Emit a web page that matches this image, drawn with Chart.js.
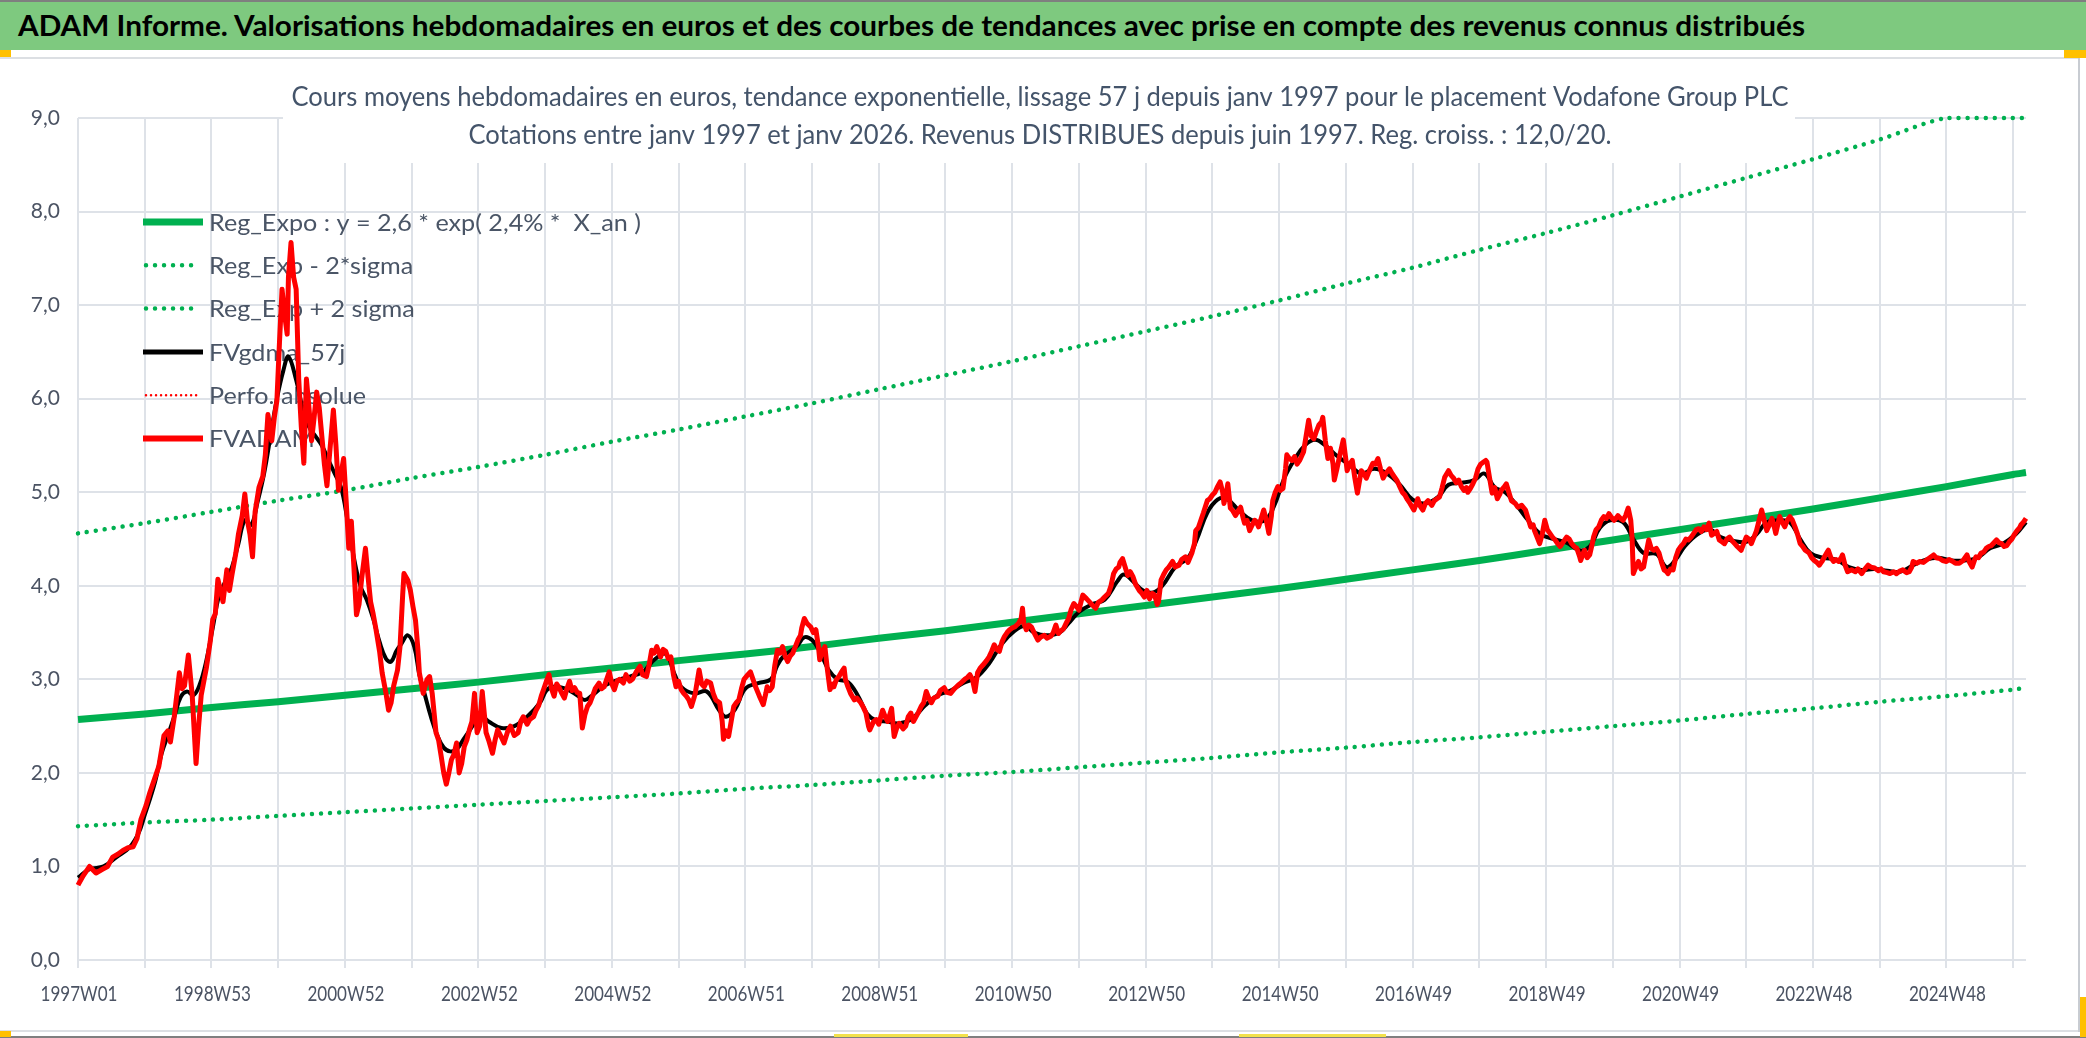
<!DOCTYPE html>
<html>
<head>
<meta charset="utf-8">
<script src="https://cdn.jsdelivr.net/npm/chart.js@4.4.1/dist/chart.umd.min.js"></script>
<style>
html,body{margin:0;padding:0;background:#fff;width:2086px;height:1038px;overflow:hidden;position:relative;}
.abs{position:absolute;}
#topline{left:0;top:0;width:2086px;height:2px;background:#7f7f7f;}
#bar{left:0;top:2px;width:2086px;height:48px;background:#7EC97F;}
#bartitle{left:18px;top:6px;line-height:38px;font-weight:bold;font-size:29px;color:#000;white-space:nowrap;transform-origin:0 50%;font-family:Lato,'Open Sans',sans-serif;}
#sep{left:0;top:57px;width:2078px;height:2px;background:#DCDFE3;}
#chartbox{left:0;top:58px;width:2080px;height:972px;}
#bottom1{left:0;top:1030px;width:2078px;height:2px;background:#DCDFE3;}
#bottom2{left:0;top:1036px;width:2086px;height:2px;background:#7f7f7f;}
#rightline{left:2078px;top:58px;width:2px;height:974px;background:#C8CCD2;}
.orange{background:#FFC000;}
.yellow{background:#F2E14C;}
</style>
</head>
<body>
<div id="topline" class="abs"></div>
<div id="bar" class="abs"></div>
<div id="bartitle" class="abs">ADAM Informe. Valorisations hebdomadaires en euros et des courbes de tendances avec prise en compte des revenus connus distribués</div>
<div id="sep" class="abs"></div>
<div class="abs orange" style="left:0;top:50px;width:11px;height:7px;"></div>
<div class="abs orange" style="left:2064px;top:50px;width:22px;height:8px;"></div>
<div id="chartbox" class="abs"><canvas id="c"></canvas></div>
<div id="rightline" class="abs"></div>
<div id="bottom1" class="abs"></div>
<div id="bottom2" class="abs"></div>
<div class="abs orange" style="left:0;top:1031px;width:11px;height:6px;"></div>
<div class="abs orange" style="left:2080px;top:997px;width:6px;height:40px;"></div>
<div class="abs yellow" style="left:834px;top:1034px;width:134px;height:3px;"></div>
<div class="abs yellow" style="left:1239px;top:1034px;width:147px;height:3px;"></div>
<script>
// ---------------- DATA ----------------
const xTickLabels = ['1997W01','1998W53','2000W52','2002W52','2004W52','2006W51','2008W51','2010W50',
  '2012W50','2014W50','2016W49','2018W49','2020W49','2022W48','2024W48'];
const labelEveryWeeks = 104;
const gridEveryWeeks = 52;
const lastWeek = 1518;

const legendLabels = ['Reg_Expo : y = 2,6 * exp( 2,4% *  X_an )','Reg_Exp - 2*sigma','Reg_Exp + 2 sigma',
  'FVgdma_57j','Perfo. absolue','FVADAM'];

const chartTitleLines = [
  'Cours moyens hebdomadaires en euros, tendance exponentielle, lissage 57 j depuis janv 1997 pour le placement Vodafone Group PLC',
  'Cotations entre janv 1997 et janv 2026. Revenus DISTRIBUES depuis juin 1997. Reg. croiss. : 12,0/20.'
];

// trend curves (week index -> value)
const trendWeeks = [0,52,104,156,208,260,312,364,416,468,520,572,624,676,728,780,832,884,936,988,1040,1092,1144,1196,1248,1300,1352,1404,1456,1508,1518];
const regExpo = [2.57,2.63,2.70,2.76,2.83,2.90,2.97,3.05,3.12,3.20,3.27,3.35,3.44,3.52,3.61,3.70,3.79,3.88,3.97,4.07,4.17,4.27,4.38,4.49,4.60,4.71,4.82,4.94,5.06,5.19,5.21];
const regLow = [1.43,1.47,1.50,1.54,1.58,1.62,1.66,1.70,1.74,1.78,1.83,1.87,1.92,1.97,2.01,2.06,2.11,2.16,2.22,2.27,2.33,2.38,2.44,2.50,2.56,2.63,2.69,2.76,2.82,2.89,2.91];
const regHigh = [4.56,4.67,4.79,4.91,5.02,5.15,5.27,5.40,5.54,5.67,5.81,5.95,6.10,6.25,6.40,6.56,6.72,6.88,7.05,7.23,7.40,7.59,7.77,7.96,8.16,8.36,8.56,8.77,9.0,9.0,9.0];

// FVgdma_57j : [week, value]
const fvgdma = [
[0,0.88],[9,0.97],[20,1.0],[30,1.1],[40,1.2],[47,1.35],[52,1.55],[60,1.9],[65,2.2],[70,2.4],
[75,2.6],[80,2.81],[85,2.87],[90,2.83],[95,2.95],[100,3.2],[105,3.55],[110,3.9],[115,4.05],[120,4.2],
[125,4.45],[130,4.7],[135,4.65],[140,4.9],[145,5.2],[150,5.6],[155,6.0],[160,6.3],[164,6.45],[170,6.2],
[175,5.9],[180,5.7],[185,5.6],[190,5.5],[195,5.35],[200,5.2],[205,5.05],[210,4.7],[215,4.3],[220,4.0],
[225,3.85],[230,3.65],[235,3.4],[240,3.22],[244,3.19],[248,3.3],[252,3.38],[257,3.47],[262,3.35],[266,3.05],
[270,2.85],[275,2.6],[280,2.4],[285,2.27],[290,2.23],[295,2.25],[300,2.35],[305,2.45],[310,2.55],[315,2.6],
[320,2.55],[330,2.48],[340,2.5],[350,2.6],[360,2.75],[365,2.88],[370,2.92],[380,2.9],[390,2.82],[395,2.78],
[400,2.82],[410,2.93],[420,2.99],[430,3.03],[440,3.08],[450,3.22],[458,3.27],[465,3.05],[470,2.92],[480,2.85],
[490,2.87],[500,2.66],[505,2.6],[512,2.68],[520,2.9],[530,2.96],[540,3.0],[545,3.15],[550,3.25],[560,3.35],
[566,3.45],[572,3.42],[578,3.3],[585,3.1],[592,3.0],[600,2.97],[608,2.82],[615,2.63],[622,2.56],[630,2.55],
[640,2.53],[650,2.58],[660,2.72],[670,2.83],[680,2.88],[690,2.96],[700,3.02],[710,3.17],[720,3.38],[730,3.52],
[738,3.57],[745,3.5],[755,3.47],[765,3.5],[772,3.6],[780,3.72],[790,3.8],[800,3.85],[810,4.05],[815,4.12],
[822,4.05],[830,3.95],[838,3.93],[845,4.0],[855,4.2],[865,4.3],[872,4.5],[880,4.78],[888,4.92],[895,4.93],
[905,4.8],[915,4.7],[925,4.7],[932,4.85],[940,5.15],[948,5.35],[956,5.5],[964,5.56],[972,5.5],[980,5.4],
[990,5.3],[1000,5.2],[1010,5.25],[1020,5.2],[1030,5.08],[1040,4.92],[1050,4.88],[1060,4.95],[1068,5.08],[1078,5.1],
[1088,5.13],[1096,5.2],[1104,5.05],[1112,5.0],[1120,4.88],[1130,4.7],[1140,4.55],[1150,4.5],[1160,4.46],[1170,4.38],
[1178,4.42],[1186,4.62],[1194,4.7],[1204,4.68],[1212,4.5],[1220,4.35],[1230,4.34],[1238,4.2],[1245,4.28],[1252,4.42],
[1262,4.55],[1272,4.6],[1280,4.52],[1290,4.48],[1300,4.47],[1308,4.55],[1316,4.68],[1326,4.7],[1334,4.68],[1342,4.5],
[1350,4.35],[1360,4.3],[1370,4.28],[1380,4.2],[1390,4.17],[1400,4.18],[1410,4.16],[1420,4.15],[1430,4.22],[1440,4.28],
[1450,4.3],[1460,4.27],[1470,4.27],[1480,4.3],[1490,4.4],[1500,4.45],[1510,4.55],[1518,4.68]
];

// FVADAM : [week, value]
const fvadam = [
[0,0.8],[4,0.9],[9,1.0],[14,0.93],[19,0.97],[23,1.0],[27,1.1],[31,1.13],[35,1.17],[39,1.2],[43,1.21],[46,1.3],[49,1.5],
[53,1.65],[56,1.79],[60,1.95],[63,2.07],[67,2.4],[70,2.45],[72,2.33],[75,2.6],[79,3.07],[81,2.9],[83,2.93],[86,3.26],
[89,2.83],[92,2.1],[94,2.5],[96,2.83],[100,3.12],[103,3.4],[105,3.64],[107,3.7],[109,4.07],[111,3.95],[113,3.83],
[116,4.17],[118,3.95],[120,4.12],[123,4.35],[125,4.55],[128,4.75],[130,4.98],[132,4.7],[134,4.55],[136,4.31],[138,4.79],
[141,5.05],[144,5.17],[146,5.4],[148,5.83],[151,5.55],[153,5.8],[155,5.98],[157,6.6],[159,7.17],[161,6.9],[163,6.69],
[164,7.3],[166,7.67],[168,7.3],[170,7.17],[172,6.21],[174,5.7],[176,5.31],[178,6.21],[180,5.9],[182,5.55],[184,5.8],
[186,6.07],[188,5.9],[190,5.6],[192,5.3],[194,5.07],[196,5.4],[199,5.88],[201,5.5],[203,5.02],[205,5.2],[207,5.36],
[209,4.9],[211,4.4],[213,4.69],[215,4.2],[217,3.69],[219,3.8],[221,4.07],[224,4.4],[226,4.1],[228,3.83],[230,3.7],
[232,3.55],[235,3.3],[237,3.07],[240,2.85],[242,2.67],[244,2.75],[246,2.93],[249,3.1],[251,3.36],[253,3.9],[254,4.13],
[257,4.06],[259,3.95],[261,3.78],[263,3.63],[265,3.3],[266,3.07],[269,2.85],[272,3.0],[274,3.03],[276,2.85],[279,2.43],
[281,2.35],[283,2.18],[285,2.0],[287,1.88],[289,2.0],[291,2.14],[293,2.2],[295,2.32],[297,2.0],[299,2.1],[301,2.28],
[303,2.35],[305,2.46],[307,2.55],[309,2.85],[311,2.43],[313,2.5],[315,2.87],[318,2.43],[320,2.35],[323,2.21],[325,2.35],
[327,2.46],[330,2.38],[332,2.32],[335,2.45],[337,2.5],[340,2.4],[343,2.43],[345,2.55],[347,2.6],[350,2.52],[352,2.57],
[355,2.6],[357,2.67],[359,2.72],[361,2.82],[363,2.9],[365,2.98],[367,3.05],[369,2.9],[371,2.82],[373,2.95],[375,2.91],
[377,2.85],[379,2.8],[381,2.9],[383,2.98],[385,2.88],[387,2.91],[389,2.86],[391,2.85],[393,2.48],[395,2.62],[397,2.71],
[399,2.75],[401,2.82],[403,2.9],[406,2.96],[408,2.9],[410,2.92],[412,3.0],[414,3.08],[416,2.95],[418,2.89],[420,2.98],
[422,3.0],[425,2.96],[427,3.05],[430,2.98],[432,3.0],[435,3.08],[438,3.14],[440,3.05],[443,3.03],[445,3.15],[447,3.31],
[449,3.28],[451,3.35],[454,3.24],[456,3.32],[458,3.3],[460,3.22],[462,3.24],[464,3.05],[466,2.92],[468,2.98],[470,2.89],
[472,2.85],[474,2.82],[476,2.78],[478,2.71],[480,2.8],[481,2.85],[484,3.1],[486,2.95],[488,2.92],[490,2.98],[493,2.96],
[495,2.85],[497,2.78],[500,2.75],[502,2.55],[503,2.36],[505,2.45],[507,2.39],[509,2.55],[511,2.71],[513,2.75],[515,2.78],
[517,2.9],[519,3.0],[522,3.05],[524,3.08],[526,3.0],[528,2.92],[531,2.82],[534,2.73],[536,2.85],[537,2.92],[539,2.88],
[541,2.92],[543,3.15],[545,3.31],[547,3.28],[549,3.35],[551,3.25],[553,3.19],[555,3.25],[557,3.28],[559,3.35],[561,3.42],
[563,3.47],[564,3.55],[566,3.65],[568,3.6],[571,3.56],[573,3.5],[575,3.53],[577,3.35],[578,3.21],[580,3.3],[582,3.35],
[584,3.1],[586,2.89],[588,2.95],[589,2.92],[591,3.0],[593,3.03],[595,3.08],[597,3.12],[598,3.0],[600,2.92],[602,2.85],
[605,2.78],[607,2.8],[610,2.75],[612,2.7],[614,2.64],[616,2.5],[617,2.46],[620,2.55],[622,2.57],[624,2.52],[627,2.67],
[629,2.6],[631,2.55],[634,2.69],[636,2.39],[638,2.48],[640,2.53],[643,2.47],[645,2.5],[647,2.6],[649,2.64],[651,2.55],
[653,2.6],[655,2.65],[657,2.71],[659,2.75],[661,2.87],[663,2.8],[665,2.75],[667,2.8],[670,2.82],[672,2.88],[675,2.91],
[677,2.86],[680,2.85],[683,2.9],[686,2.94],[688,2.96],[691,3.0],[693,3.02],[695,3.05],[697,3.0],[699,2.87],[701,3.07],
[703,3.12],[705,3.15],[708,3.2],[710,3.24],[712,3.3],[714,3.37],[716,3.32],[718,3.3],[720,3.4],[722,3.46],[724,3.5],
[726,3.53],[728,3.55],[730,3.56],[733,3.6],[735,3.65],[736,3.76],[737,3.6],[739,3.53],[741,3.58],[743,3.56],[745,3.5],
[748,3.42],[750,3.45],[753,3.47],[755,3.44],[758,3.46],[760,3.5],[762,3.58],[764,3.49],[766,3.52],[768,3.54],[770,3.6],
[772,3.65],[774,3.75],[776,3.81],[778,3.78],[780,3.74],[782,3.85],[783,3.9],[786,3.86],[788,3.83],[790,3.8],[793,3.76],
[795,3.82],[798,3.85],[800,3.88],[803,3.92],[805,4.0],[807,4.13],[809,4.18],[811,4.2],[812,4.25],[814,4.29],[816,4.2],
[818,4.11],[820,4.15],[822,4.1],[824,4.02],[827,3.95],[829,3.92],[831,3.88],[833,3.95],[835,3.86],[837,3.92],[839,3.9],
[841,3.8],[842,3.83],[844,4.06],[846,4.12],[848,4.17],[850,4.2],[853,4.26],[855,4.2],[858,4.22],[860,4.28],[863,4.31],
[865,4.25],[868,4.35],[870,4.45],[871,4.59],[873,4.62],[875,4.7],[877,4.78],[880,4.91],[882,4.93],[884,4.97],[886,5.0],
[888,5.06],[890,5.11],[892,5.0],[893,4.88],[895,5.0],[896,5.09],[898,4.83],[900,4.8],[902,4.75],[904,4.8],[906,4.84],
[908,4.72],[909,4.67],[911,4.7],[913,4.59],[915,4.65],[917,4.7],[919,4.66],[920,4.63],[922,4.72],[924,4.81],[926,4.7],
[928,4.56],[930,4.75],[931,4.91],[933,5.0],[935,5.06],[937,5.02],[939,5.04],[941,5.25],[942,5.4],[944,5.36],[946,5.34],
[948,5.38],[950,5.3],[952,5.34],[954,5.4],[955,5.43],[957,5.6],[959,5.77],[961,5.6],[963,5.57],[965,5.65],[967,5.72],
[969,5.75],[970,5.8],[972,5.55],[974,5.36],[976,5.47],[978,5.3],[979,5.13],[981,5.25],[983,5.38],[985,5.5],[986,5.56],
[988,5.35],[989,5.23],[991,5.3],[993,5.34],[995,5.15],[997,4.99],[999,5.15],[1000,5.23],[1002,5.2],[1004,5.15],[1006,5.22],
[1009,5.31],[1011,5.3],[1013,5.36],[1015,5.25],[1017,5.15],[1019,5.2],[1022,5.25],[1024,5.2],[1026,5.16],[1028,5.12],
[1030,5.06],[1032,5.0],[1034,4.97],[1036,4.92],[1038,4.88],[1041,4.81],[1043,4.88],[1044,4.93],[1046,4.85],[1048,4.81],
[1050,4.88],[1052,4.91],[1055,4.86],[1057,4.91],[1059,4.93],[1061,4.95],[1063,5.05],[1065,5.16],[1068,5.23],[1070,5.18],
[1072,5.15],[1074,5.1],[1076,5.13],[1078,5.06],[1080,5.02],[1082,5.05],[1083,5.0],[1085,5.04],[1087,5.09],[1089,5.15],
[1091,5.25],[1093,5.3],[1095,5.32],[1097,5.34],[1098,5.32],[1100,5.15],[1102,4.99],[1104,5.05],[1106,4.93],[1108,4.98],
[1109,5.02],[1111,5.05],[1113,5.09],[1115,5.0],[1117,4.91],[1120,4.88],[1122,4.84],[1125,4.86],[1128,4.81],[1130,4.72],
[1132,4.63],[1134,4.65],[1135,4.59],[1137,4.52],[1139,4.45],[1141,4.55],[1143,4.7],[1145,4.6],[1147,4.56],[1149,4.52],
[1151,4.49],[1153,4.45],[1155,4.42],[1158,4.48],[1160,4.52],[1162,4.5],[1164,4.45],[1166,4.42],[1168,4.4],[1170,4.32],
[1171,4.27],[1173,4.35],[1174,4.38],[1176,4.3],[1178,4.33],[1180,4.45],[1181,4.52],[1183,4.6],[1185,4.63],[1187,4.7],
[1189,4.74],[1191,4.72],[1193,4.77],[1195,4.73],[1197,4.7],[1199,4.73],[1200,4.75],[1202,4.72],[1204,4.7],[1206,4.75],
[1208,4.83],[1210,4.7],[1211,4.52],[1212,4.13],[1214,4.2],[1216,4.26],[1218,4.18],[1220,4.2],[1222,4.35],[1224,4.49],
[1226,4.4],[1228,4.38],[1230,4.4],[1232,4.35],[1234,4.25],[1236,4.17],[1238,4.15],[1239,4.13],[1241,4.18],[1243,4.17],
[1245,4.3],[1247,4.38],[1249,4.42],[1251,4.45],[1253,4.5],[1255,4.49],[1257,4.52],[1259,4.56],[1261,4.6],[1263,4.61],
[1265,4.58],[1267,4.63],[1269,4.6],[1271,4.67],[1273,4.54],[1275,4.56],[1277,4.58],[1279,4.49],[1281,4.47],[1283,4.45],
[1285,4.5],[1287,4.52],[1289,4.48],[1291,4.45],[1293,4.42],[1296,4.38],[1298,4.45],[1300,4.52],[1302,4.5],[1304,4.45],
[1306,4.52],[1308,4.59],[1310,4.7],[1312,4.81],[1314,4.7],[1316,4.59],[1318,4.65],[1320,4.72],[1322,4.62],[1323,4.56],
[1325,4.68],[1326,4.74],[1328,4.68],[1330,4.63],[1332,4.7],[1334,4.74],[1336,4.7],[1338,4.63],[1340,4.55],[1342,4.45],
[1344,4.42],[1346,4.38],[1348,4.36],[1349,4.35],[1351,4.3],[1353,4.27],[1355,4.25],[1357,4.22],[1359,4.26],[1361,4.31],
[1363,4.36],[1364,4.38],[1366,4.3],[1368,4.26],[1370,4.28],[1372,4.26],[1374,4.3],[1375,4.33],[1377,4.22],[1379,4.15],
[1382,4.17],[1385,4.15],[1387,4.18],[1390,4.13],[1392,4.17],[1395,4.22],[1397,4.2],[1400,4.19],[1403,4.16],[1405,4.18],
[1407,4.15],[1410,4.14],[1412,4.13],[1415,4.15],[1417,4.13],[1420,4.16],[1422,4.17],[1425,4.14],[1427,4.15],[1429,4.2],
[1430,4.26],[1433,4.24],[1435,4.26],[1438,4.25],[1440,4.27],[1443,4.3],[1446,4.33],[1448,4.3],[1451,4.29],[1453,4.27],
[1456,4.26],[1458,4.28],[1461,4.26],[1463,4.24],[1466,4.24],[1469,4.27],[1472,4.33],[1474,4.25],[1476,4.2],[1478,4.28],
[1479,4.31],[1481,4.3],[1483,4.35],[1485,4.36],[1487,4.4],[1489,4.42],[1491,4.43],[1493,4.46],[1495,4.49],[1497,4.46],
[1499,4.45],[1501,4.42],[1503,4.43],[1505,4.47],[1507,4.5],[1509,4.55],[1511,4.59],[1513,4.62],[1514,4.65],[1516,4.68],
[1518,4.72]
];

const perfoAbsolue = [];

// ---------------- STYLE ----------------
const FONT = "Lato,'Open Sans',sans-serif";
const GREEN = '#00B050';
const GRID = '#DEE2E8';
const AXIS_TXT = '#4B5363';
const TITLE_TXT = '#44546A';
const LEGEND_TXT = '#4A5566';

function toXY(ws, vs) { return ws.map((w, i) => ({ x: w, y: vs[i] })); }
function pairs(arr) { return arr.map(p => ({ x: p[0], y: p[1] })); }

const dotted = { borderDash: [0.01, 9], borderCapStyle: 'round', borderWidth: 4.5 };

function drawFitted(ctx, text, x, y, sx, align, color) {
  ctx.save();
  ctx.translate(x, y);
  ctx.scale(sx, 1);
  ctx.textAlign = align;
  ctx.textBaseline = 'alphabetic';
  ctx.fillStyle = color;
  ctx.fillText(text, 0, 0);
  ctx.restore();
}

const overlayPlugin = {
  id: 'overlay',
  beforeDatasetsDraw(chart) {
    const ctx = chart.ctx;
    ctx.save();
    // white title box over the grid
    ctx.fillStyle = '#ffffff';
    ctx.fillRect(283, 50, 1512, 55);
    // chart title lines, horizontally fitted
    ctx.font = 'normal 26px ' + FONT;
    const sxT = 1497 / ctx.measureText(chartTitleLines[0]).width;
    const ys = [48, 86];
    chartTitleLines.forEach((t, i) => drawFitted(ctx, t, 1040, ys[i], sxT, 'center', TITLE_TXT));
    // legend
    ctx.font = 'normal 24px ' + FONT;
    const sxL = 432 / ctx.measureText(legendLabels[0]).width;
    const base0 = 172.7, step = 43.3;
    const styles = [
      { c: GREEN, w: 7, dash: [], cap: 'butt' },
      { c: GREEN, w: 4.5, dash: [0.01, 9], cap: 'round' },
      { c: GREEN, w: 4.5, dash: [0.01, 9], cap: 'round' },
      { c: '#000000', w: 5, dash: [], cap: 'butt' },
      { c: '#FF0000', w: 2.5, dash: [0.01, 5], cap: 'round' },
      { c: '#FF0000', w: 6, dash: [], cap: 'butt' }
    ];
    legendLabels.forEach((t, i) => {
      const by = base0 + i * step;
      const ly = by - 8.7;
      const s = styles[i];
      ctx.save();
      ctx.strokeStyle = s.c; ctx.lineWidth = s.w; ctx.setLineDash(s.dash); ctx.lineCap = s.cap;
      ctx.beginPath();
      const x0 = s.dash.length ? 146 : 143, x1 = s.dash.length ? 200 : 203;
      ctx.moveTo(x0, ly); ctx.lineTo(x1, ly); ctx.stroke();
      ctx.restore();
      drawFitted(ctx, t, 209, by, sxL, 'left', LEGEND_TXT);
    });
    ctx.restore();
  },
  afterDraw(chart) {
    // x axis category labels (every 104 weeks), horizontally condensed like the reference font
    const ctx = chart.ctx;
    const xs = chart.scales.x;
    ctx.save();
    ctx.font = 'normal 22px ' + FONT;
    const sx = 77 / ctx.measureText(xTickLabels[0]).width;
    xTickLabels.forEach((t, i) => {
      const px = xs.getPixelForValue(i * labelEveryWeeks);
      drawFitted(ctx, t, px + 1, 943, sx, 'center', AXIS_TXT);
    });
    ctx.restore();
  }
};

const chart = new Chart(document.getElementById('c'), {
  type: 'line',
  data: {
    datasets: [
      { label: legendLabels[5], data: pairs(fvadam), borderColor: '#FF0000', borderWidth: 5, pointRadius: 0, tension: 0, borderJoinStyle: 'round', order: 0, clip: 10 },
      { label: legendLabels[4], data: perfoAbsolue, borderColor: '#FF0000', borderWidth: 2.5, borderDash: [0.01, 5], pointRadius: 0, order: 1 },
      { label: legendLabels[3], data: pairs(fvgdma), borderColor: '#000000', borderWidth: 4, pointRadius: 0, tension: 0.4, order: 2, clip: 10 },
      Object.assign({ label: legendLabels[2], data: toXY(trendWeeks, regHigh), borderColor: GREEN, pointRadius: 0, tension: 0.3, order: 3, clip: 10 }, dotted),
      Object.assign({ label: legendLabels[1], data: toXY(trendWeeks, regLow), borderColor: GREEN, pointRadius: 0, tension: 0.3, order: 4, clip: 10 }, dotted),
      { label: legendLabels[0], data: toXY(trendWeeks, regExpo), borderColor: GREEN, borderWidth: 7, pointRadius: 0, tension: 0.3, order: 5, clip: 10 }
    ]
  },
  options: {
    responsive: true,
    maintainAspectRatio: false,
    animation: false,
    events: [],
    layout: { padding: { top: 60, right: 54, left: 0, bottom: 0 } },
    plugins: { legend: { display: false }, title: { display: false }, tooltip: { enabled: false } },
    scales: {
      x: {
        type: 'linear', min: 0, max: lastWeek,
        afterBuildTicks: (s) => {
          const t = [];
          for (let w = 0; w <= lastWeek; w += gridEveryWeeks) t.push({ value: w });
          s.ticks = t;
        },
        afterFit: (s) => { s.height = 70; },
        ticks: { display: false, autoSkip: false, maxRotation: 0, minRotation: 0 },
        grid: { color: GRID, lineWidth: 2, drawTicks: true, tickLength: 8, tickColor: GRID },
        border: { display: false }
      },
      y: {
        min: 0, max: 9,
        afterFit: (s) => { s.width = 78; },
        ticks: {
          stepSize: 1, padding: 18, color: AXIS_TXT, font: { family: FONT, size: 21 },
          callback: (v) => v.toFixed(1).replace('.', ',')
        },
        grid: { color: GRID, lineWidth: 2, drawTicks: false },
        border: { display: false }
      }
    }
  },
  plugins: [overlayPlugin]
});

// fit the banner title to its width in the reference
(function () {
  const el = document.getElementById('bartitle');
  const w = el.getBoundingClientRect().width;
  el.style.transform = 'scaleX(' + (1787 / w) + ')';
})();
</script>
</body>
</html>
